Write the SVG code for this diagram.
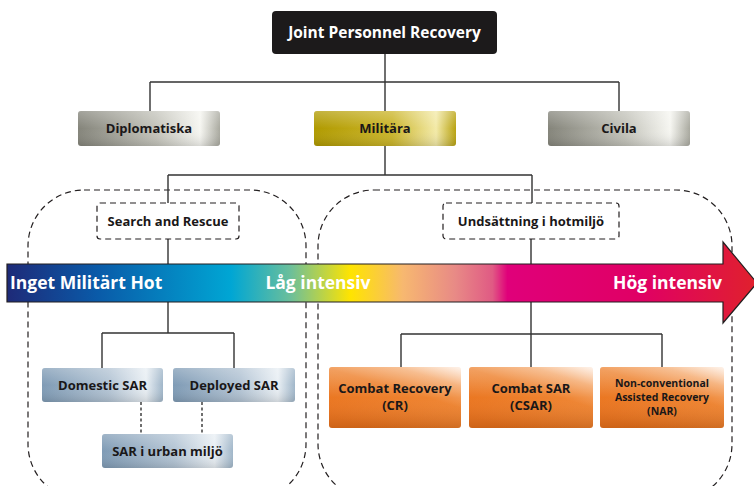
<svg xmlns="http://www.w3.org/2000/svg" width="754" height="486" viewBox="0 0 754 486">
<defs>
<linearGradient id="gGray" x1="0" y1="0" x2="1" y2="0">
<stop offset="0" stop-color="#84847a"/><stop offset="0.55" stop-color="#c4c4bb"/><stop offset="0.86" stop-color="#f6f6f1"/><stop offset="1" stop-color="#a9a99f"/>
</linearGradient>
<linearGradient id="gGold" x1="0" y1="0" x2="1" y2="0">
<stop offset="0" stop-color="#b09a00"/><stop offset="0.55" stop-color="#cbb52a"/><stop offset="0.86" stop-color="#f3eaa8"/><stop offset="1" stop-color="#b8a210"/>
</linearGradient>
<linearGradient id="gBlue" x1="0" y1="0" x2="1" y2="0">
<stop offset="0" stop-color="#7f9bb5"/><stop offset="0.55" stop-color="#b3c4d4"/><stop offset="0.86" stop-color="#e9eff4"/><stop offset="1" stop-color="#a0b6c9"/>
</linearGradient>
<linearGradient id="gOrange" x1="0.3" y1="1" x2="0.95" y2="0">
<stop offset="0" stop-color="#e8701a"/><stop offset="0.55" stop-color="#ee8330"/><stop offset="0.8" stop-color="#f5ac72"/><stop offset="1" stop-color="#fde9da"/>
</linearGradient>
<linearGradient id="gShade" x1="0" y1="0" x2="0" y2="1">
<stop offset="0" stop-color="#fff" stop-opacity="0.25"/><stop offset="0.5" stop-color="#fff" stop-opacity="0"/><stop offset="1" stop-color="#000" stop-opacity="0.12"/>
</linearGradient>
<linearGradient id="gArrow" x1="7" y1="0" x2="754" y2="0" gradientUnits="userSpaceOnUse">
<stop offset="0" stop-color="#1e2a78"/><stop offset="0.12" stop-color="#0a5aa8"/><stop offset="0.3" stop-color="#00a6d4"/><stop offset="0.38" stop-color="#6cbf9a"/><stop offset="0.46" stop-color="#ffe400"/><stop offset="0.53" stop-color="#f7b870"/><stop offset="0.6" stop-color="#e88a86"/><stop offset="0.65" stop-color="#e05a84"/><stop offset="0.67" stop-color="#e0007a"/><stop offset="0.85" stop-color="#e00064"/><stop offset="1" stop-color="#e0202e"/>
</linearGradient>
</defs>
<style>
text{font-family:"Open Sans","Noto Sans","Liberation Sans",sans-serif;font-weight:bold;fill:#1a1718;text-anchor:middle}
.shade{fill:url(#gShade)}
.dash{fill:none;stroke:#231f20;stroke-width:1.2;stroke-dasharray:6 4}
.conn{fill:none;stroke:#333;stroke-width:1.4}
.dot{fill:none;stroke:#333;stroke-width:1.4;stroke-dasharray:3 2.5}
.t13{font-size:13px}
.big{fill:#fff;font-size:17.5px}
</style>

<g id="regions">
<rect class="dash" x="28" y="190" width="278" height="310" rx="56"/>
<rect class="dash" x="318" y="190" width="414" height="310" rx="56"/>
</g>

<g id="connectors">
<path class="conn" d="M385 54V82M150 82H619M150 82V111M385 82V111M619 82V111"/>
<path class="conn" d="M385 146V175M168 175H532M168 175V203M532 175V203"/>
<path class="conn" d="M168 239V264M168 302V333M102 333H234M102 333V368M234 333V368"/>
<path class="conn" d="M531 239V264M531 302V334M401 334H662M401 334V367M531 334V367M662 334V367"/>
<path class="dot" d="M141 402V434M202 402V434"/>
</g>

<g id="arrow">
<path d="M7 264H723V242L757 283L723 323V302H7Z" fill="url(#gArrow)" stroke="#231f20" stroke-width="1.2"/>
<text class="big" x="10" y="289" style="text-anchor:start">Inget Militärt Hot</text>
<text class="big" x="318" y="289">Låg intensiv</text>
<text class="big" x="722" y="289" style="text-anchor:end">Hög intensiv</text>
</g>

<g id="jpr">
<rect x="272" y="11" width="225" height="43" rx="4" fill="#1c1a1b"/>
<text x="384.5" y="38" style="fill:#fff;font-size:15.5px">Joint Personnel Recovery</text>
</g>

<g id="diplomatiska">
<rect x="78" y="111" width="142" height="35" rx="3" fill="url(#gGray)"/>
<rect x="78" y="111" width="142" height="35" rx="3" class="shade"/>
<text class="t13" x="149" y="133">Diplomatiska</text>
</g>
<g id="militara">
<rect x="314" y="111" width="142" height="35" rx="3" fill="url(#gGold)"/>
<rect x="314" y="111" width="142" height="35" rx="3" class="shade"/>
<text class="t13" x="385" y="133">Militära</text>
</g>
<g id="civila">
<rect x="548" y="111" width="142" height="35" rx="3" fill="url(#gGray)"/>
<rect x="548" y="111" width="142" height="35" rx="3" class="shade"/>
<text class="t13" x="619" y="133">Civila</text>
</g>

<g id="sar">
<rect class="dash" x="97" y="203" width="142" height="36" rx="3"/>
<text class="t13" x="168" y="225.5">Search and Rescue</text>
</g>
<g id="undsattning">
<rect class="dash" x="443" y="203" width="176" height="36" rx="3"/>
<text class="t13" x="531" y="225.5">Undsättning i hotmiljö</text>
</g>

<g id="domestic">
<rect x="42" y="368" width="121" height="34" rx="3" fill="url(#gBlue)"/>
<rect x="42" y="368" width="121" height="34" rx="3" class="shade"/>
<text class="t13" x="102.5" y="389.5">Domestic SAR</text>
</g>
<g id="deployed">
<rect x="173" y="368" width="122" height="34" rx="3" fill="url(#gBlue)"/>
<rect x="173" y="368" width="122" height="34" rx="3" class="shade"/>
<text class="t13" x="234" y="389.5">Deployed SAR</text>
</g>
<g id="urban">
<rect x="102" y="434" width="131" height="34" rx="3" fill="url(#gBlue)"/>
<rect x="102" y="434" width="131" height="34" rx="3" class="shade"/>
<text class="t13" x="167.5" y="455.5">SAR i urban miljö</text>
</g>

<g id="cr">
<rect x="329" y="367" width="132" height="61" rx="3" fill="url(#gOrange)"/>
<rect x="329" y="367" width="132" height="61" rx="3" class="shade"/>
<text class="t13" x="395" y="393">Combat Recovery</text>
<text class="t13" x="395" y="410">(CR)</text>
</g>
<g id="csar">
<rect x="469" y="367" width="124" height="61" rx="3" fill="url(#gOrange)"/>
<rect x="469" y="367" width="124" height="61" rx="3" class="shade"/>
<text class="t13" x="531" y="393">Combat SAR</text>
<text class="t13" x="531" y="410">(CSAR)</text>
</g>
<g id="nar">
<rect x="600" y="367" width="124" height="61" rx="3" fill="url(#gOrange)"/>
<rect x="600" y="367" width="124" height="61" rx="3" class="shade"/>
<text x="662" y="387" style="font-size:10.5px">Non-conventional</text>
<text x="662" y="401" style="font-size:10.5px">Assisted Recovery</text>
<text x="662" y="415" style="font-size:10.5px">(NAR)</text>
</g>
</svg>
